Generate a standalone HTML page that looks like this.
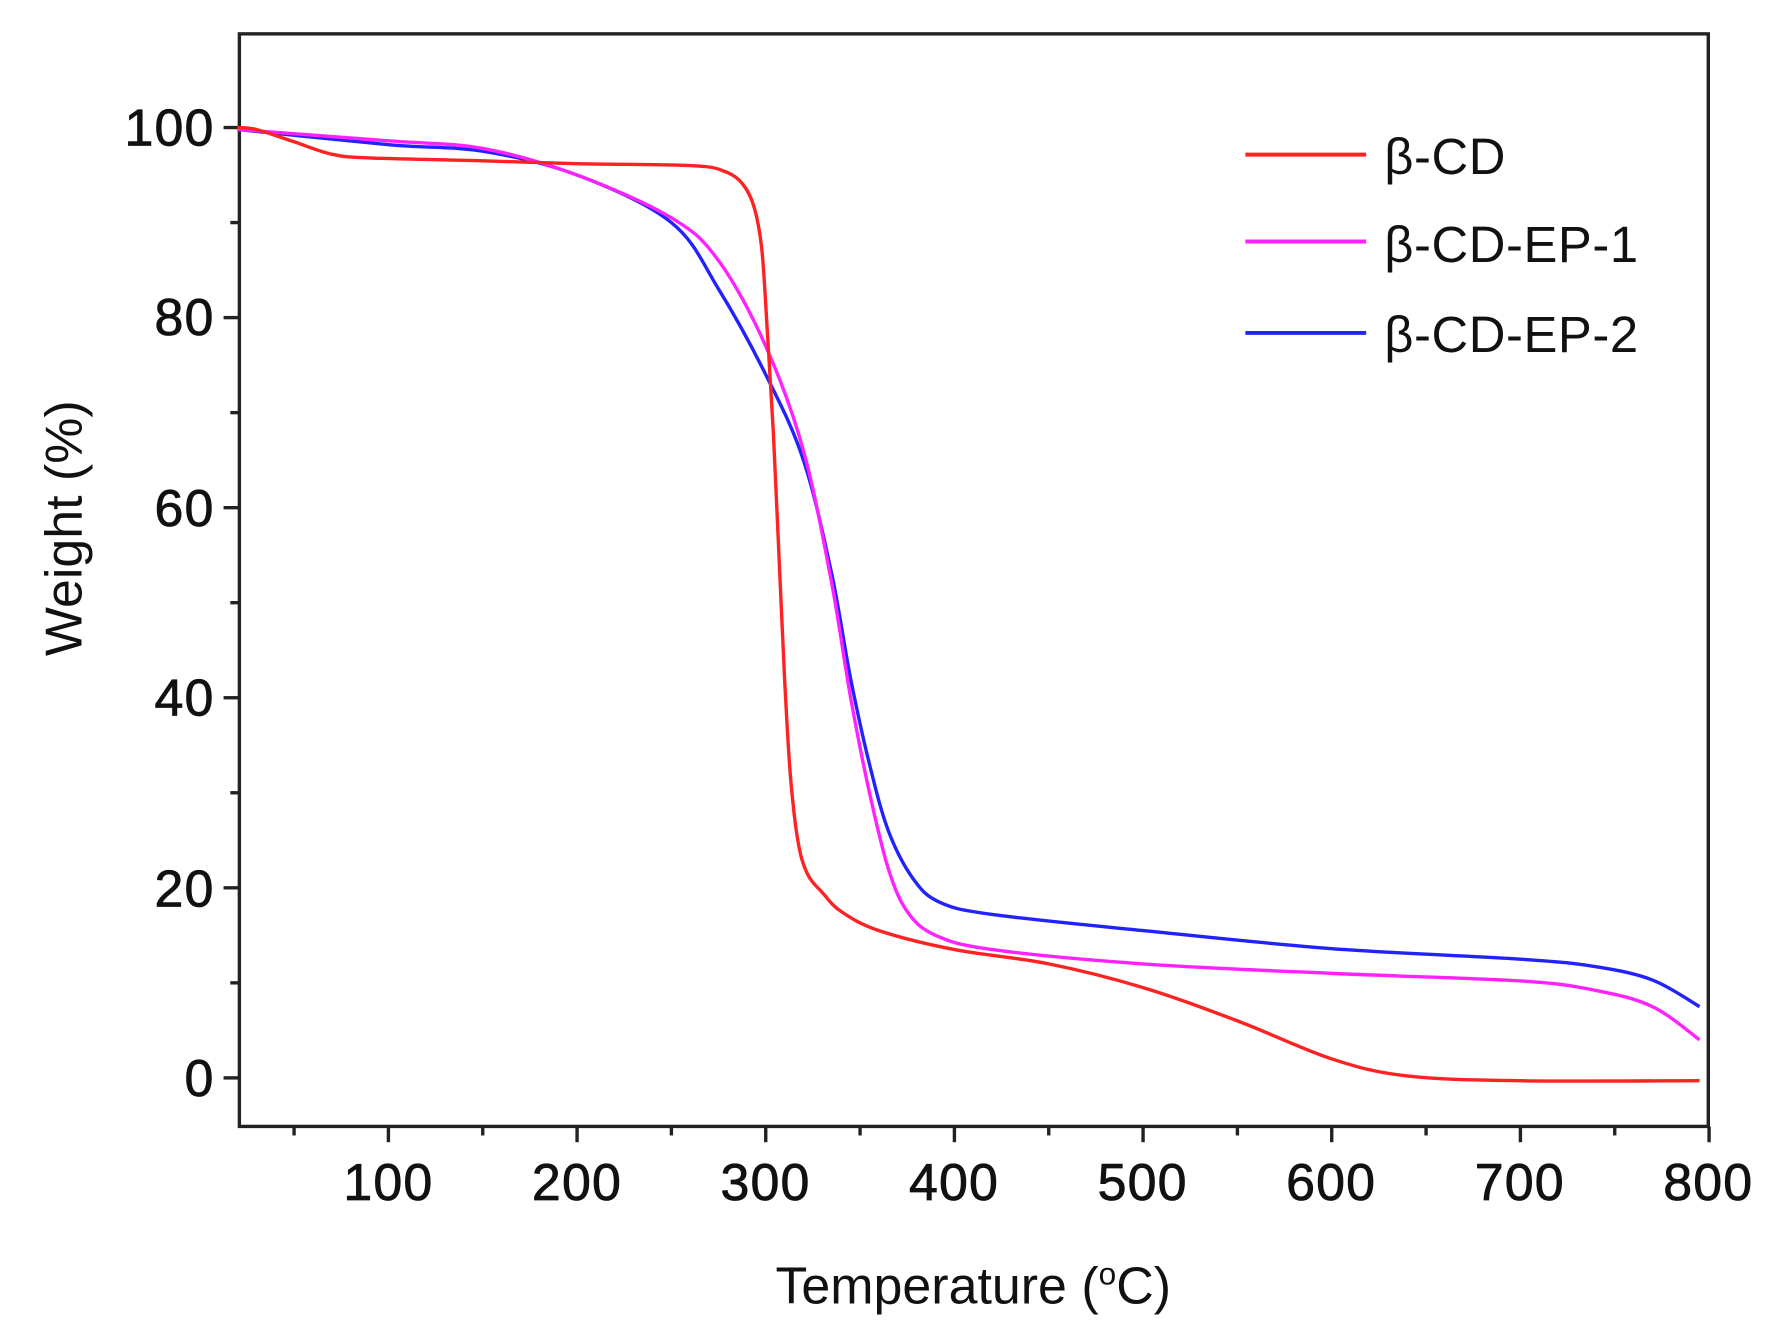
<!DOCTYPE html>
<html><head><meta charset="utf-8"><style>
html,body{margin:0;padding:0;background:#fff;width:1767px;height:1342px;overflow:hidden}
svg{display:block}
text{font-family:"Liberation Sans",Arial,sans-serif;fill:#111}
</style></head><body>
<svg id="s" width="1767" height="1342" viewBox="0 0 1565 1189" preserveAspectRatio="none" xmlns="http://www.w3.org/2000/svg">
<g id="ax" stroke="#222" stroke-width="3" fill="none">
<rect x="212" y="30" width="1301" height="968"/>
</g>
<g id="tk" stroke="#222" stroke-width="3"></g>
<g font-size="46" text-anchor="end" stroke="#111" stroke-width="0.7" letter-spacing="1">
<text x="190" y="129">100</text><text x="190" y="297">80</text><text x="190" y="466">60</text><text x="190" y="634">40</text><text x="190" y="803">20</text><text x="190" y="971">0</text>
</g>
<g font-size="46" text-anchor="middle" stroke="#111" stroke-width="0.7" letter-spacing="1">
<text x="344" y="1063">100</text><text x="511" y="1063">200</text><text x="678" y="1063">300</text><text x="845" y="1063">400</text><text x="1012" y="1063">500</text><text x="1179" y="1063">600</text><text x="1346" y="1063">700</text><text x="1513" y="1063">800</text>
</g>
<text x="862" y="1155" font-size="46" text-anchor="middle">Temperature (<tspan font-size="28" dy="-17">o</tspan><tspan dy="17">C)</tspan></text>
<text transform="translate(72 468) rotate(-90)" font-size="46" text-anchor="middle">Weight (%)</text>
<g stroke-width="3.5">
<line x1="1103" y1="137" x2="1210" y2="137" stroke="#f22"/>
<line x1="1103" y1="214" x2="1210" y2="214" stroke="#f2f"/>
<line x1="1103" y1="295" x2="1210" y2="295" stroke="#22f"/>
</g>
<g font-size="45" letter-spacing="0.5">
<text x="1226" y="154">β-CD</text><text x="1226" y="232">β-CD-EP-1</text><text x="1226" y="312">β-CD-EP-2</text>
</g>
<g id="d" fill="none" stroke-width="3" stroke-linejoin="round"></g>
</svg>
<script>
function X(t){return 344+(t-100)*1.671}
function Y(w){return 955-w*8.42}
var tk=document.getElementById('tk'),h='';
for(var t=50;t<=800;t+=50){var x=X(t),l=(t%100==0)?14:8;h+='<line x1="'+x+'" y1="998" x2="'+x+'" y2="'+(998+l)+'"/>';}
for(var w=0;w<=100;w+=10){var y=Y(w),l=(w%20==0)?14:8;h+='<line x1="'+(212-l)+'" y1="'+y+'" x2="212" y2="'+y+'"/>';}
tk.innerHTML=h;
var S={
"#f22":[[20,100],[30,99.8],[50,98.5],[70,97.2],[90,96.8],[150,96.5],[200,96.2],[260,96],[278,95.4],[288,94],[294,91.5],[298,87],[301,78],[304,68],[307,55],[310,42],[313,32],[317,25],[322,21.5],[330,19.5],[340,17.5],[360,15.5],[400,13.5],[450,12],[500,9.5],[550,6],[600,2],[640,0.2],[700,-0.3],[795,-0.3]],
"#f2f":[[20,99.8],[100,98.6],[150,97.8],[200,95],[250,90.5],[275,86],[300,77],[320,66],[335,52],[345,40],[355,30],[365,22],[375,17.5],[390,15],[420,13.5],[500,12],[600,11],[700,10.2],[740,9.2],[770,7.5],[795,4]],
"#22f":[[20,99.8],[100,98.2],[150,97.5],[200,95],[250,90],[275,83],[300,74],[320,65],[335,53],[345,42],[355,33],[365,26],[378,21],[392,18.5],[420,17.2],[500,15.5],[600,13.6],[700,12.5],[740,11.7],[770,10.3],[795,7.5]]};
function path(p){var q=p.map(function(a){return [X(a[0]),Y(a[1])]});var s='M'+q[0][0].toFixed(1)+','+q[0][1].toFixed(1);
for(var i=0;i<q.length-1;i++){var p0=q[i-1]||q[i],p1=q[i],p2=q[i+1],p3=q[i+2]||p2;
var c1=[p1[0]+(p2[0]-p0[0])/6,p1[1]+(p2[1]-p0[1])/6],c2=[p2[0]-(p3[0]-p1[0])/6,p2[1]-(p3[1]-p1[1])/6];
s+=' C'+c1[0].toFixed(1)+','+c1[1].toFixed(1)+' '+c2[0].toFixed(1)+','+c2[1].toFixed(1)+' '+p2[0].toFixed(1)+','+p2[1].toFixed(1);}
return s;}
var d=document.getElementById('d'),o='';
["#22f","#f2f","#f22"].forEach(function(c){o+='<path stroke="'+c+'" d="'+path(S[c])+'"/>';});
d.innerHTML=o;
</script>
</body></html>
